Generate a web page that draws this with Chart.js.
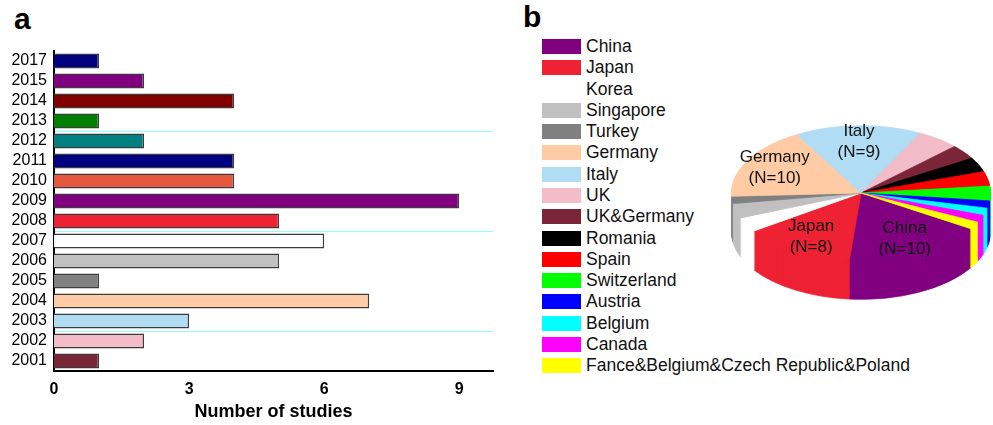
<!DOCTYPE html>
<html>
<head>
<meta charset="utf-8">
<script src="https://cdn.jsdelivr.net/npm/chart.js@4.4.1/dist/chart.umd.min.js"></script>
<style>
  body { margin: 0; background: #fff; font-family: "Liberation Sans", Arial, sans-serif; }
  #wrap { position: relative; width: 993px; height: 425px; overflow: hidden; }
  .panel-tag { position: absolute; font-size: 30px; font-weight: bold; line-height: 1; color: #000; }
  #barChart { position: absolute; left: 0; top: 0; }
  #pieChart { position: absolute; left: 731px; top: 62px; }
  #legend { position: absolute; left: 542px; top: 36px; }
  .leg-row { display: flex; align-items: center; height: 21.27px; font-size: 17.5px; color: #111; white-space: nowrap; }
  .leg-box { width: 39px; height: 15px; margin-right: 5px; flex: none; }
</style>
</head>
<body>
<div id="wrap">
  <div class="panel-tag" style="left:14px;top:4px">a</div>
  <div class="panel-tag" style="left:523px;top:2px">b</div>
  <canvas id="barChart" width="500" height="425"></canvas>
  <div id="legend"></div>
  <canvas id="pieChart" width="260" height="262"></canvas>
</div>
<script>
// panel a: studies per year
const years = ['2017', '2015', '2014', '2013', '2012', '2011', '2010', '2009',
               '2008', '2007', '2006', '2005', '2004', '2003', '2002', '2001'];
const studies = [1, 2, 4, 1, 2, 4, 4, 9, 5, 6, 5, 1, 7, 3, 2, 1];
const barColors = ['#000080', '#800080', '#800000', '#008000', '#008080', '#000080', '#e5573f', '#800080',
                   '#ee2233', '#ffffff', '#c0c0c0', '#808080', '#ffcba4', '#b0dcf4', '#f2bcc8', '#7a2638'];
const xTicks = [0, 3, 6, 9];
const markedYears = ['2013', '2008', '2003']; // cyan line drawn under these rows

// panel b: studies per country
const pieLabels = ['China', 'Japan', 'Korea', 'Singapore', 'Turkey', 'Germany', 'Italy', 'UK', 'UK&Germany',
                   'Romania', 'Spain', 'Switzerland', 'Austria', 'Belgium', 'Canada',
                   'Fance&Belgium&Czech Republic&Poland'];
const pieValues = [10, 8, 2, 2, 1, 10, 9, 3, 2, 2, 2, 2, 1, 1, 1, 1];
const pieColors = ['#800080', '#ee2233', '#ffffff', '#c0c0c0', '#808080', '#ffcba4', '#b0dcf4', '#f2bcc8',
                   '#7a2638', '#000000', '#ff0000', '#00ff00', '#0000ff', '#00ffff', '#ff00ff', '#ffff00'];

Chart.defaults.font.family = '"Liberation Sans", Arial, sans-serif';

// offset grid: line i sits between row i-1 and row i
const gridColors = [null, ...years].map(y => markedYears.includes(y) ? '#90ffff' : 'rgba(255,255,255,0)');

new Chart(document.getElementById('barChart'), {
  type: 'bar',
  data: {
    labels: years,
    datasets: [{
      data: studies,
      backgroundColor: barColors,
      borderColor: '#3c3c3c',
      borderWidth: 1.5,
      barPercentage: 0.75,
      categoryPercentage: 1
    }]
  },
  options: {
    indexAxis: 'y',
    responsive: false,
    animation: false,
    events: [],
    layout: { padding: { top: 51, right: 7, left: 0, bottom: 0 } },
    plugins: { legend: { display: false }, tooltip: { enabled: false } },
    scales: {
      x: {
        min: 0,
        max: 9.75,
        afterFit: s => { s.height = 54; },
        afterBuildTicks: s => { s.ticks = xTicks.map(v => ({ value: v })); },
        grid: { display: false, drawTicks: false },
        border: { display: true, color: '#000', width: 2 },
        ticks: { color: '#000', font: { size: 16, weight: 'bold' }, padding: 9 },
        title: {
          display: true,
          text: 'Number of studies',
          color: '#000',
          font: { size: 18, weight: 'bold' },
          padding: { top: 0, bottom: 2 }
        }
      },
      y: {
        afterFit: s => { s.width = 54; },
        grid: {
          offset: true,
          drawTicks: false,
          lineWidth: 1,
          color: gridColors
        },
        border: { color: '#000', width: 2 },
        ticks: { color: '#000', font: { size: 16 }, padding: 7, autoSkip: false }
      }
    }
  }
});

// legend for panel b
const legend = document.getElementById('legend');
pieLabels.forEach((name, i) => {
  const row = document.createElement('div');
  row.className = 'leg-row';
  const box = document.createElement('span');
  box.className = 'leg-box';
  box.style.background = pieColors[i];
  row.appendChild(box);
  row.appendChild(document.createTextNode(name));
  legend.appendChild(row);
});

// tilted pie with a thick side
const squash = 0.52;
const depth = 39;
const labelAt = 0.76;

const pie3d = {
  id: 'pie3d',
  beforeDatasetsDraw(chart) {
    const ctx = chart.ctx;
    const arcs = chart.getDatasetMeta(0).data;
    const cx = arcs[0].x, cy = arcs[0].y;
    const flatten = () => { ctx.translate(cx, cy); ctx.scale(1, squash); ctx.translate(-cx, -cy); };
    for (let d = depth; d > 0; d--) {
      ctx.save();
      ctx.translate(0, d);
      flatten();
      arcs.forEach(a => a.draw(ctx));
      ctx.restore();
    }
    ctx.save();
    flatten();
  },
  afterDatasetsDraw(chart) {
    const ctx = chart.ctx;
    ctx.restore();
    const arcs = chart.getDatasetMeta(0).data;
    ctx.save();
    ctx.font = '17px "Liberation Sans", Arial, sans-serif';
    ctx.fillStyle = '#111';
    ctx.textAlign = 'center';
    ctx.textBaseline = 'middle';
    arcs.forEach((a, i) => {
      if (pieValues[i] < 8) return; // only the big slices carry a label
      const mid = (a.startAngle + a.endAngle) / 2;
      const r = a.outerRadius * labelAt;
      const x = a.x + Math.cos(mid) * r;
      const y = a.y + Math.sin(mid) * r * squash;
      ctx.fillText(pieLabels[i], x, y - 10.5);
      ctx.fillText(`(N=${pieValues[i]})`, x, y + 10.5);
    });
    ctx.restore();
  }
};

new Chart(document.getElementById('pieChart'), {
  type: 'pie',
  data: {
    labels: pieLabels,
    datasets: [{
      data: pieValues,
      backgroundColor: pieColors,
      borderColor: pieColors,
      borderWidth: 1
    }]
  },
  options: {
    responsive: false,
    animation: false,
    events: [],
    rotation: 122,
    layout: { padding: 0 },
    plugins: { legend: { display: false }, tooltip: { enabled: false } }
  },
  plugins: [pie3d]
});
</script>
</body>
</html>
